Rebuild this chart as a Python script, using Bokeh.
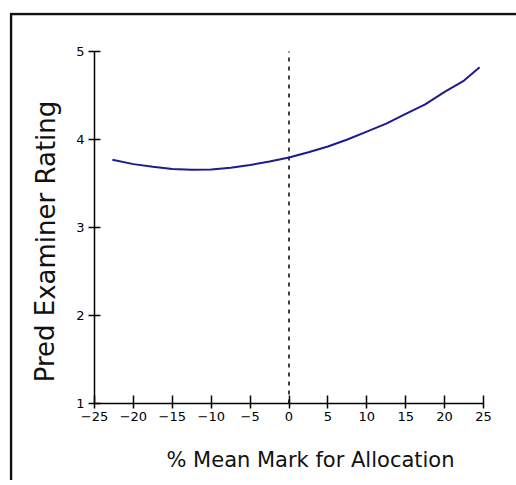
from bokeh.plotting import figure
from bokeh.models import (LinearAxis, FixedTicker, Range1d, Label,
                          ColumnDataSource)
from bokeh.embed import file_html
from bokeh.resources import INLINE

# Predicted examiner rating against % mean mark for allocation
mark_pct = [-22.7, -20, -17.5, -15, -12.5, -10, -7.5, -5, -2.5, 0,
            2.5, 5, 7.5, 10, 12.5, 15, 17.5, 20, 22.5, 24.5]
pred_rating = [3.77, 3.72, 3.69, 3.665, 3.655, 3.66, 3.68, 3.71, 3.75, 3.795,
               3.855, 3.92, 4.00, 4.09, 4.18, 4.29, 4.40, 4.54, 4.67, 4.82]

x_ticks = [-25, -20, -15, -10, -5, 0, 5, 10, 15, 20, 25]
y_ticks = [1, 2, 3, 4, 5]
x_lo, x_hi = -25, 25
y_lo, y_hi = 1, 5
ref_mark = 0  # dashed reference at zero

x_title = "% Mean Mark for Allocation"
y_title = "Pred Examiner Rating"

FONT = "DejaVu Sans"

# plot frame geometry (pixels) and ranges
FRAME_LEFT, FRAME_TOP = 9, 12
W, H = 516, 480
x_range = Range1d(-35.925, 29.24)
y_range = Range1d(0.125, 5.443)
px_x = (W - FRAME_LEFT) / (x_range.end - x_range.start)
px_y = (H - FRAME_TOP) / (y_range.end - y_range.start)

p = figure(width=W, height=H, output_backend="svg", toolbar_location=None,
           x_range=x_range, y_range=y_range,
           x_axis_type=None, y_axis_type=None,
           min_border_left=FRAME_LEFT, min_border_top=FRAME_TOP,
           min_border_right=0, min_border_bottom=0)
p.outline_line_color = None
p.xgrid.visible = False
p.ygrid.visible = False
p.background_fill_color = "white"
p.border_fill_color = "white"

# axes drawn inside the frame, crossing at (-25, 1)
xaxis = LinearAxis(fixed_location=y_lo, bounds=(x_lo, x_hi),
                   ticker=FixedTicker(ticks=x_ticks))
yaxis = LinearAxis(fixed_location=x_lo, bounds=(y_lo, y_hi),
                   ticker=FixedTicker(ticks=y_ticks))
for ax in (xaxis, yaxis):
    ax.axis_line_color = "black"
    ax.axis_line_width = 1.5
    ax.major_tick_line_color = "black"
    ax.major_tick_line_width = 1.5
    ax.minor_tick_line_color = None
    ax.major_label_text_font = FONT
    ax.major_label_text_font_size = "13px"
    ax.major_label_text_color = "black"
xaxis.major_tick_in = 8
xaxis.major_tick_out = 5
xaxis.major_label_standoff = 4
yaxis.major_tick_in = 6
yaxis.major_tick_out = 6
yaxis.major_label_standoff = 4
p.add_layout(xaxis, "below")
p.add_layout(yaxis, "left")

# open border along the frame's left and top edges (1.5 px inside)
bx = x_range.start + 1.5 / px_x
by = y_range.end - 1.5 / px_y
p.line([bx, bx, x_range.end + 5], [y_range.start - 5, by, by],
       line_color="#111111", line_width=2.5, line_join="miter")

# dashed vertical reference line at 0
p.line([ref_mark, ref_mark], [y_lo, y_hi], line_color="black",
       line_width=1.5, line_dash="4 5")

# predicted curve
src = ColumnDataSource(dict(x=mark_pct, y=pred_rating))
p.line("x", "y", source=src, line_color="#1c1c8c", line_width=2)

# axis titles
p.add_layout(Label(x=301, y=21, x_units="screen", y_units="screen",
                   text=x_title, text_font=FONT, text_font_size="21px",
                   text_align="center", text_baseline="alphabetic",
                   text_color="#111111"))
p.add_layout(Label(x=36, y=239, x_units="screen", y_units="screen",
                   text=y_title, text_font=FONT, text_font_size="26px",
                   angle=1.5707963, text_align="center",
                   text_baseline="alphabetic", text_color="#111111"))

open("out.html", "w").write(file_html(p, INLINE))
